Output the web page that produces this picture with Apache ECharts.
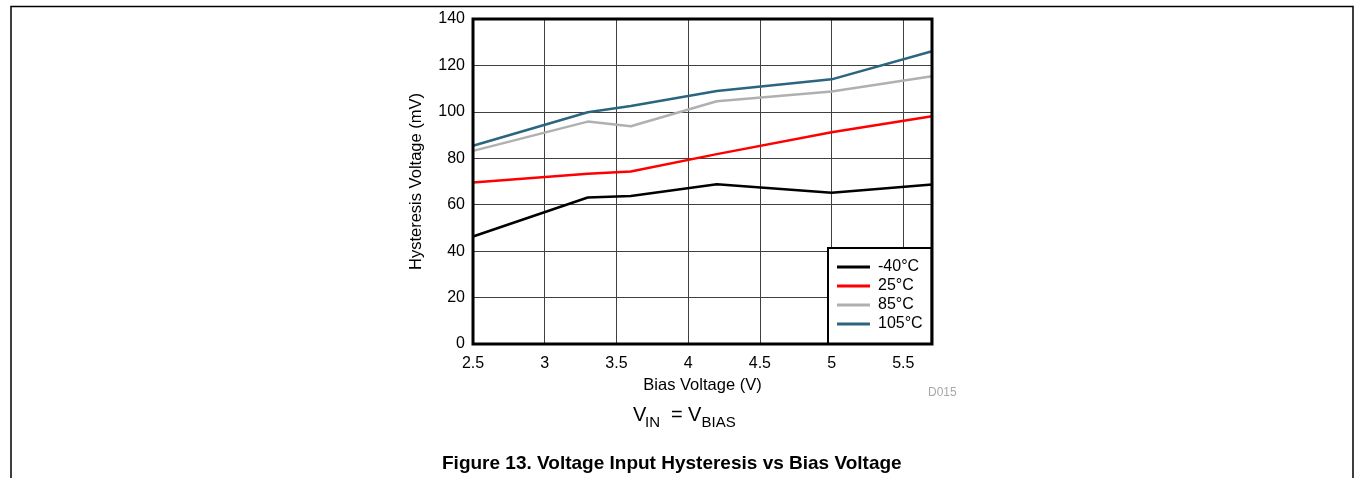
<!DOCTYPE html>
<html>
<head>
<meta charset="utf-8">
<script src="https://cdn.jsdelivr.net/npm/echarts@6/dist/echarts.min.js"></script>
<style>
html,body{margin:0;padding:0;background:#fff;}
#c{width:1355px;height:478px;}
</style>
</head>
<body>
<div id="c"></div>
<script>
const biasV = [2.5, 3.3, 3.6, 4.2, 5.0, 5.7];
const seriesNames = ['-40°C', '25°C', '85°C', '105°C'];
const hystM40 = [46.3, 63.1, 63.8, 68.8, 65.2, 68.7];
const hyst25 = [69.6, 73.3, 74.3, 81.8, 91.2, 98.1];
const hyst85 = [83.2, 95.8, 93.8, 104.6, 108.8, 115.3];
const hyst105 = [85.4, 99.8, 102.5, 109.0, 114.0, 126.1];
const seriesColors = ['#000000', '#ff0000', '#b0b0b0', '#2c6580'];

const FONT = 'Liberation Sans, Arial, sans-serif';
const allData = [hystM40, hyst25, hyst85, hyst105];

const chart = echarts.init(document.getElementById('c'), null, {renderer: 'canvas'});
chart.setOption({
  animation: false,
  backgroundColor: '#fff',
  textStyle: {fontFamily: FONT},
  grid: {left: 473, top: 19, width: 459, height: 325, show: true, borderColor: '#000', borderWidth: 3, backgroundColor: 'transparent', z: 5},
  xAxis: {
    type: 'value', min: 2.5, max: 5.7, interval: 0.5,
    name: 'Bias Voltage (V)', nameLocation: 'middle', nameGap: 28,
    nameTextStyle: {fontSize: 16.5, color: '#000', fontFamily: FONT},
    axisLine: {show: false},
    axisTick: {show: false},
    axisLabel: {fontSize: 16, color: '#000', margin: 12, showMaxLabel: false, fontFamily: FONT},
    splitLine: {show: true, lineStyle: {color: '#404040', width: 1}}
  },
  yAxis: {
    type: 'value', min: 0, max: 140, interval: 20,
    name: 'Hysteresis Voltage (mV)', nameLocation: 'middle', nameGap: 48,
    nameTextStyle: {fontSize: 16.5, color: '#000', fontFamily: FONT},
    axisLine: {show: false},
    axisTick: {show: false},
    axisLabel: {fontSize: 16, color: '#000', margin: 8, fontFamily: FONT},
    splitLine: {show: true, lineStyle: {color: '#404040', width: 1}}
  },
  legend: {
    orient: 'vertical', left: 828, top: 248,
    padding: [11, 9, 12, 9], itemGap: 3,
    itemWidth: 33, itemHeight: 3, icon: 'rect',
    borderColor: '#000', borderWidth: 2, backgroundColor: '#fff',
    textStyle: {fontSize: 16, color: '#000', fontFamily: FONT, padding: [0, 0, 0, 3]},
    data: seriesNames
  },
  series: seriesNames.map((n, i) => ({
    name: n, type: 'line', symbol: 'none',
    data: biasV.map((x, j) => [x, allData[i][j]]),
    lineStyle: {color: seriesColors[i], width: 2.5},
    itemStyle: {color: seriesColors[i]},
    z: 3
  })),
  graphic: [
    {type: 'polyline', shape: {points: [[11, 478], [11, 6.5], [1353, 6.5], [1353, 478]]}, style: {stroke: '#000', lineWidth: 1.5, fill: null}},
    {type: 'text', left: 928, top: 387, style: {text: 'D015', fontSize: 12, fill: '#a8a8a8', fontFamily: FONT}},
    {type: 'text', left: 633, top: 405, style: {text: 'V', fontSize: 20, fill: '#000', fontFamily: FONT}},
    {type: 'text', left: 645, top: 415, style: {text: 'IN', fontSize: 15, fill: '#000', fontFamily: FONT}},
    {type: 'text', left: 671, top: 405, style: {text: '=', fontSize: 20, fill: '#000', fontFamily: FONT}},
    {type: 'text', left: 688, top: 405, style: {text: 'V', fontSize: 20, fill: '#000', fontFamily: FONT}},
    {type: 'text', left: 701.5, top: 415, style: {text: 'BIAS', fontSize: 15, fill: '#000', fontFamily: FONT}},
    {type: 'text', left: 442, top: 454, style: {text: 'Figure 13. Voltage Input Hysteresis vs Bias Voltage', fontSize: 19, fontWeight: 'bold', fill: '#000', fontFamily: FONT}}
  ]
});
</script>
</body>
</html>
